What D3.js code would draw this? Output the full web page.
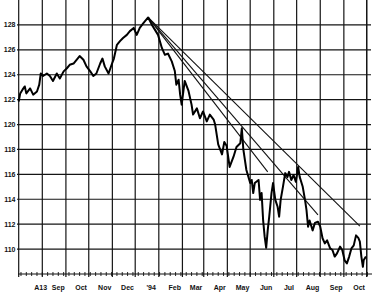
<!DOCTYPE html>
<html>
<head>
<meta charset="utf-8">
<script src="https://cdnjs.cloudflare.com/ajax/libs/d3/7.8.5/d3.min.js"></script>
<style>
  body { margin: 0; background: #fff; }
  text { font-family: "Liberation Sans", Arial, sans-serif; font-weight: bold; fill: #111; }
</style>
</head>
<body>
<div id="chart"></div>
<script>
// days are counted from 15 Jul 1993
var startDate = new Date(1993, 6, 15),
    endDate = new Date(1994, 9, 15);

var priceDays = [0, 2, 5, 8, 10, 15, 19, 24, 27, 29, 32, 37, 41, 45, 50, 54, 59, 63, 67, 72,
  76, 80, 85, 89, 94, 98, 102, 107, 110, 113, 118, 122, 125, 129, 133, 137, 142, 146, 151, 155,
  159, 164, 170, 175, 179, 183, 188, 192, 196, 201, 205, 207, 210, 212, 214, 218, 223, 227, 229, 234,
  238, 242, 247, 251, 256, 258, 262, 267, 270, 273, 277, 282, 286, 291, 293, 295, 299, 304, 306, 308,
  310, 315, 317, 319, 321, 323, 325, 327, 329, 332, 334, 337, 340, 342, 344, 347, 350, 353, 355, 358,
  361, 364, 367, 369, 373, 376, 378, 380, 382, 386, 389, 393, 396, 399, 402, 405, 409, 412, 415, 418,
  422, 425, 428, 431, 434, 437, 440, 443, 446, 448, 450, 452, 453, 456];
var priceValues = [121.85, 122.5, 122.8, 123.06, 122.5, 122.9, 122.4, 122.65, 123.2, 124.1, 123.9, 124.1, 123.9, 123.5, 124.1, 123.7, 124.27, 124.5, 124.8, 124.9,
  125.2, 125.5, 125.2, 124.67, 124.27, 123.9, 124.1, 124.9, 125.3, 124.67, 124.1, 124.8, 125.3, 126.4, 126.7, 126.95, 127.2, 127.5, 127.76, 127.2,
  127.76, 128.16, 128.6, 128.0, 127.6, 127.2, 126.15, 125.6, 125.7, 125.07, 124.3, 123.2, 123.6, 122.4, 121.6, 123.5, 122.7, 121.6, 120.8, 121.3,
  120.5, 121.05, 120.25, 120.8, 120.4, 120.0, 118.4, 117.6, 118.6, 118.3, 116.6, 117.4, 118.2, 118.5, 119.7, 118.0, 116.35, 115.3, 115.55, 114.5,
  115.3, 115.55, 113.95, 114.5, 112.3, 111.0, 110.1, 111.5, 112.6, 114.5, 115.3, 113.95, 113.4, 112.6, 113.95, 115.0, 116.1, 115.8, 116.2, 115.55,
  115.95, 115.4, 116.6, 115.8, 115.0, 113.95, 113.1, 111.8, 112.3, 111.5, 112.1, 112.2, 111.8, 110.87, 110.46, 110.7, 110.06, 109.93, 109.4, 109.66,
  110.2, 109.9, 109.1, 108.85, 109.4, 110.06, 110.3, 111.1, 110.9, 110.6, 109.4, 108.58, 109.1, 109.4];

// trend lines drawn from the January high
var trendStartDay = 170, trendStartValue = 128.6;
var trendEndDays = [448, 393, 327];
var trendEndValues = [111.85, 112.74, 116.2];

var yTicks = [110, 112, 114, 116, 118, 120, 122, 124, 126, 128];
var monthLabels = ["A13", "Sep", "Oct", "Nov", "Dec", "'94", "Feb", "Mar", "Apr", "May", "Jun", "Jul", "Aug", "Sep", "Oct"];
var monthLabelDates = ["1993-08-09", "1993-09-01", "1993-10-01", "1993-11-01", "1993-12-01", "1994-01-01", "1994-02-01",
  "1994-03-01", "1994-04-01", "1994-05-01", "1994-06-01", "1994-07-01", "1994-08-01", "1994-09-01", "1994-10-01"];

var width = 379, height = 297;

var svg = d3.select("#chart").append("svg")
    .attr("width", width)
    .attr("height", height);

svg.append("rect").attr("width", width).attr("height", height).attr("fill", "#fff");

var x = d3.scaleTime().domain([startDate, endDate]).range([18.7, 366.7]);
var y = d3.scaleLinear().domain([108, 130]).range([274, 0]);
var baseY = y(108);

function dayToDate(d) { return d3.timeDay.offset(startDate, d); }

// vertical grid, one line on the 15th of each month
var gridDates = d3.timeMonth.range(d3.timeMonth.floor(startDate), endDate).map(function (m) {
    return d3.timeDay.offset(m, 14);
});
gridDates.push(endDate);

svg.append("g").selectAll("line")
    .data(gridDates)
    .enter().append("line")
    .attr("x1", function (d) { return x(d); })
    .attr("x2", function (d) { return x(d); })
    .attr("y1", 0)
    .attr("y2", baseY + 3)
    .attr("stroke", "#151515")
    .attr("stroke-width", 1.2);

// horizontal grid
svg.append("g").selectAll("line")
    .data(yTicks)
    .enter().append("line")
    .attr("x1", 17)
    .attr("x2", 371)
    .attr("y1", function (d) { return y(d); })
    .attr("y2", function (d) { return y(d); })
    .attr("stroke", "#151515")
    .attr("stroke-width", 1.2);

svg.append("g").selectAll("text")
    .data(yTicks)
    .enter().append("text")
    .attr("x", 15.5)
    .attr("y", function (d) { return y(d); })
    .attr("dy", "0.35em")
    .attr("text-anchor", "end")
    .style("font-size", "7px")
    .text(function (d) { return d; });

// baseline with weekly ticks
svg.append("line")
    .attr("x1", 18).attr("x2", 372)
    .attr("y1", baseY).attr("y2", baseY)
    .attr("stroke", "#111").attr("stroke-width", 1.2);

svg.append("g").selectAll("line")
    .data(d3.timeWeek.range(startDate, d3.timeDay.offset(endDate, 5)))
    .enter().append("line")
    .attr("x1", function (d) { return x(d); })
    .attr("x2", function (d) { return x(d); })
    .attr("y1", baseY - 2)
    .attr("y2", baseY + 2)
    .attr("stroke", "#111")
    .attr("stroke-width", 0.9);

svg.append("g").selectAll("text")
    .data(monthLabels)
    .enter().append("text")
    .attr("x", function (d, i) { return x(d3.timeParse("%Y-%m-%d")(monthLabelDates[i])) + 3; })
    .attr("y", 290)
    .attr("text-anchor", "middle")
    .style("font-size", "7px")
    .text(function (d) { return d; });

// trend lines
svg.append("g").selectAll("line")
    .data(trendEndDays)
    .enter().append("line")
    .attr("x1", x(dayToDate(trendStartDay)))
    .attr("y1", y(trendStartValue))
    .attr("x2", function (d) { return x(dayToDate(d)); })
    .attr("y2", function (d, i) { return y(trendEndValues[i]); })
    .attr("stroke", "#111")
    .attr("stroke-width", 1.1);

// price
var line = d3.line()
    .x(function (d, i) { return x(dayToDate(priceDays[i])); })
    .y(function (d) { return y(d); });

svg.append("path")
    .datum(priceValues)
    .attr("d", line)
    .attr("fill", "none")
    .attr("stroke", "#000")
    .attr("stroke-width", 2)
    .attr("stroke-linejoin", "round");
</script>
</body>
</html>
